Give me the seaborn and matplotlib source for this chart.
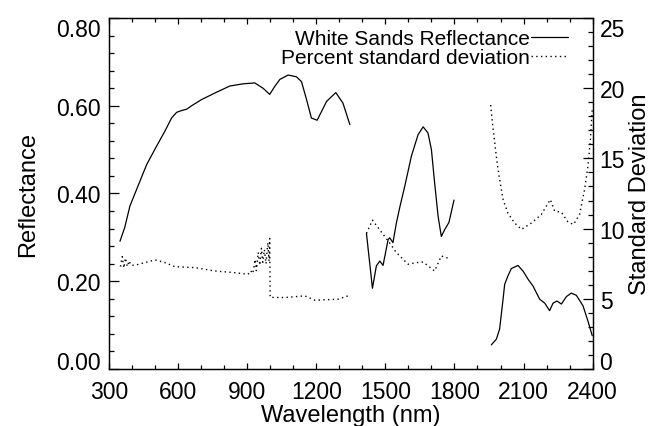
import numpy as np
import pandas as pd
import matplotlib
matplotlib.use("Agg")
import matplotlib.pyplot as plt
from matplotlib.ticker import MultipleLocator, FormatStrFormatter
from matplotlib.lines import Line2D
import seaborn as sns

# ---------------- data ----------------
# Reflectance (left axis), three spectral windows
wl_refl_1 = [348, 369, 391, 420, 464, 507, 543, 572, 594, 615, 637, 659, 702, 760, 825, 883,
             933, 969, 998, 1020, 1042, 1078, 1114, 1136, 1158, 1179, 1204, 1223, 1245, 1285, 1316, 1346]
refl_1 = [0.291, 0.323, 0.371, 0.409, 0.466, 0.508, 0.542, 0.572, 0.585, 0.589, 0.592, 0.600, 0.614,
          0.629, 0.645, 0.650, 0.652, 0.640, 0.626, 0.644, 0.660, 0.670, 0.666, 0.655, 0.614, 0.572,
          0.567, 0.587, 0.610, 0.630, 0.606, 0.557]

wl_refl_2 = [1418, 1444, 1461, 1476, 1490, 1512, 1519, 1533, 1548, 1562, 1584, 1613, 1642, 1664,
             1685, 1700, 1714, 1729, 1743, 1758, 1776, 1798]
refl_2 = [0.309, 0.184, 0.235, 0.246, 0.236, 0.295, 0.299, 0.288, 0.333, 0.367, 0.416, 0.485, 0.534,
          0.552, 0.538, 0.500, 0.424, 0.348, 0.302, 0.318, 0.334, 0.385]

wl_refl_3 = [1960, 1982, 1996, 2011, 2018, 2032, 2047, 2076, 2098, 2119, 2141, 2170, 2192, 2213,
             2228, 2245, 2264, 2286, 2307, 2329, 2358, 2379, 2398]
refl_3 = [0.055, 0.068, 0.091, 0.159, 0.193, 0.212, 0.229, 0.236, 0.223, 0.205, 0.189, 0.159, 0.150,
          0.133, 0.150, 0.155, 0.148, 0.165, 0.173, 0.168, 0.144, 0.110, 0.076]

# Percent standard deviation (right axis)
wl_sd_1 = [350, 358, 365, 372, 380, 388, 395, 413, 500, 543, 586, 673, 760, 847, 904, 915, 925, 935,
           940, 948, 955, 962, 968, 975, 982, 990, 995, 998, 1000, 1064, 1150, 1194, 1295, 1338]
sd_1 = [7.3, 8.0, 7.2, 7.9, 7.3, 7.7, 7.4, 7.39, 7.77, 7.58, 7.29, 7.22, 6.98, 6.86, 6.74, 7.0, 6.8,
        7.8, 7.0, 8.3, 7.4, 8.6, 7.6, 8.5, 7.5, 9.0, 7.7, 9.3, 5.1, 5.09, 5.21, 4.9, 4.97, 5.21]

wl_sd_2 = [1418, 1444, 1476, 1519, 1548, 1599, 1635, 1664, 1714, 1743, 1779]
sd_2 = [9.66, 10.6, 9.9, 8.97, 8.29, 7.46, 7.58, 7.62, 6.98, 8.05, 7.86]

wl_sd_3 = [1957, 1965, 1975, 1985, 1996, 2011, 2032, 2061, 2091, 2134, 2177, 2216, 2235, 2264,
           2293, 2317, 2343, 2365, 2379, 2390, 2398]
sd_3 = [18.8, 17.5, 16.1, 14.7, 13.5, 12.07, 11.1, 10.4, 9.94, 10.4, 11.0, 12.07, 11.24, 11.17,
        10.46, 10.3, 11.0, 12.8, 14.4, 16.3, 18.5]

x_ticks = [300, 600, 900, 1200, 1500, 1800, 2100, 2400]
refl_ticks = [0.0, 0.2, 0.4, 0.6, 0.8]
sd_ticks = [0, 5, 10, 15, 20, 25]
legend_labels = ["White Sands Reflectance", "Percent standard deviation"]

# ---------------- tables ----------------
refl_df = pd.concat([
    pd.DataFrame({"wl": wl_refl_1, "val": refl_1, "seg": 1}),
    pd.DataFrame({"wl": wl_refl_2, "val": refl_2, "seg": 2}),
    pd.DataFrame({"wl": wl_refl_3, "val": refl_3, "seg": 3}),
], ignore_index=True)
sd_df = pd.concat([
    pd.DataFrame({"wl": wl_sd_1, "val": sd_1, "seg": 1}),
    pd.DataFrame({"wl": wl_sd_2, "val": sd_2, "seg": 2}),
    pd.DataFrame({"wl": wl_sd_3, "val": sd_3, "seg": 3}),
], ignore_index=True)

# ---------------- style ----------------
sns.set_style("white")
plt.rcParams["font.family"] = ["Liberation Sans", "DejaVu Sans"]
plt.rcParams["axes.linewidth"] = 0.9
for key in ["text.color", "axes.labelcolor", "xtick.color", "ytick.color", "axes.edgecolor"]:
    plt.rcParams[key] = "black"

fig = plt.figure(figsize=(6.6, 4.27), dpi=100)
ax = fig.add_axes([0.165, 0.1335, 0.733, 0.822])
ax2 = ax.twinx()

dot_style = (0, (1, 2.4))

sns.lineplot(data=refl_df, x="wl", y="val", units="seg", estimator=None, sort=False,
             color="black", linewidth=0.9, ax=ax, legend=False)
sns.lineplot(data=sd_df, x="wl", y="val", units="seg", estimator=None, sort=False,
             color="black", linewidth=1.0, ax=ax2, legend=False)
for ln in ax2.get_lines():
    ln.set_linestyle(dot_style)

ax.set_xlim(300, 2400)
ax.set_ylim(0, 0.8)
ax2.set_ylim(0, 25)

ax.set_xticks(x_ticks)
ax.xaxis.set_minor_locator(MultipleLocator(100))
ax.set_yticks(refl_ticks)
ax.yaxis.set_minor_locator(MultipleLocator(0.04))
ax.yaxis.set_major_formatter(FormatStrFormatter("%.2f"))
ax2.set_yticks(sd_ticks)
ax2.yaxis.set_minor_locator(MultipleLocator(1))
ax.set_ylim(0, 0.8)
ax2.set_ylim(0, 25)

ax.tick_params(axis="x", which="both", direction="in", top=True, bottom=True,
               labelsize=16.5, pad=8, width=0.9, colors="black")
ax.tick_params(axis="x", which="major", length=4.3)
ax.tick_params(axis="x", which="minor", length=2.9)
ax.tick_params(axis="y", which="both", direction="in", left=True, right=False,
               labelsize=16.5, pad=6, width=0.9, colors="black")
ax.tick_params(axis="y", which="major", length=7)
ax.tick_params(axis="y", which="minor", length=3.6)
ax2.tick_params(axis="y", which="both", direction="in", right=True, labelsize=16.5, pad=5,
                width=0.9, colors="black")
ax2.tick_params(axis="y", which="major", length=7)
ax2.tick_params(axis="y", which="minor", length=3.6)

for a in (ax, ax2):
    for s in a.spines.values():
        s.set_visible(True)
        s.set_color("black")
        s.set_linewidth(0.9)

ax.set_xlabel("Wavelength (nm)", fontsize=17, labelpad=1)
ax.set_ylabel("Reflectance", fontsize=17, labelpad=12)
ax2.set_ylabel("Standard Deviation", fontsize=17, labelpad=3)

# end labels of the y axes are nudged inside the frame, as in the reference
fig.canvas.draw()
for a in (ax, ax2):
    labs = a.yaxis.get_majorticklabels()
    labs[0].set_verticalalignment("baseline")
    labs[-1].set_verticalalignment("top")

handles = [Line2D([], [], color="black", linewidth=0.9),
           Line2D([], [], color="black", linewidth=1.0, linestyle=dot_style)]
leg = ax.legend(handles, legend_labels, loc="upper right", bbox_to_anchor=(0.948, 0.968),
                frameon=False, markerfirst=False, fontsize=15, handlelength=1.75,
                handletextpad=0.05, labelspacing=0.0, borderpad=0, borderaxespad=0)

fig.savefig("out.png", dpi=100)
